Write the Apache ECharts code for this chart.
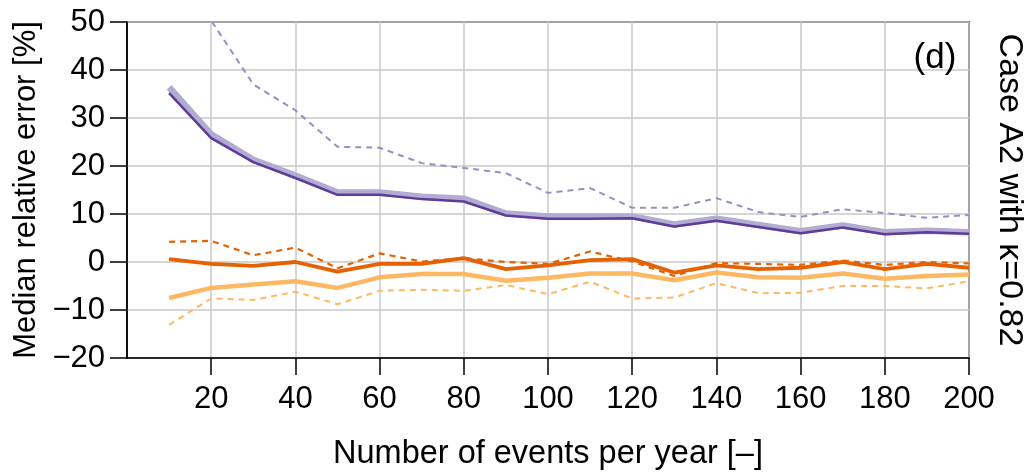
<!DOCTYPE html>
<html>
<head>
<meta charset="utf-8">
<script src="https://cdn.jsdelivr.net/npm/echarts@6/dist/echarts.min.js"></script>
<style>
html,body{margin:0;padding:0;background:#fff;}
#chart{width:1026px;height:472px;}
</style>
</head>
<body>
<div id="chart"></div>
<script>
const eventsPerYear = [10,20,30,40,50,60,70,80,90,100,110,120,130,140,150,160,170,180,190,200];
const purpleThick = [36.4,26.6,21.3,18.0,14.5,14.5,13.6,13.2,10.1,9.5,9.5,9.5,7.8,9.0,7.7,6.4,7.6,6.2,6.5,6.2];
const purpleSolid = [35.2,25.8,20.8,17.5,14.0,14.0,13.1,12.6,9.7,9.0,9.0,9.1,7.4,8.6,7.3,6.0,7.2,5.8,6.2,5.9];
const purpleDashed = [95,50.3,37.0,31.6,24.0,23.8,20.6,19.6,18.5,14.4,15.4,11.3,11.3,13.3,10.4,9.4,11.0,10.2,9.2,9.8];
const orangeSolid = [0.6,-0.4,-0.8,0.0,-2.0,-0.4,-0.4,0.8,-1.5,-0.7,0.4,0.6,-2.2,-0.7,-1.5,-1.2,0.0,-1.5,-0.4,-1.2];
const orangeDashed = [4.2,4.4,1.4,3.0,-1.3,1.8,0.1,0.8,0.0,-0.4,2.2,0.1,-2.9,-0.2,-0.4,-0.6,0.3,-0.6,0.0,-0.3];
const lightOrangeSolid = [-7.5,-5.4,-4.7,-4.0,-5.4,-3.2,-2.5,-2.5,-3.9,-3.3,-2.4,-2.4,-3.8,-2.2,-3.2,-3.3,-2.4,-3.5,-2.9,-2.6];
const lightOrangeDashed = [-13.1,-7.6,-7.9,-6.2,-8.8,-6.0,-5.8,-6.0,-4.8,-6.7,-4.1,-7.6,-7.4,-4.4,-6.5,-6.4,-5.0,-5.0,-5.5,-4.0];
const xTicks = [20,40,60,80,100,120,140,160,180,200];
const yTicks = [-20,-10,0,10,20,30,40,50];

const FONT = 'Liberation Sans, Arial, Helvetica, sans-serif';
function pairs(ys){ return eventsPerYear.map((x,i)=>[x,ys[i]]); }
function line(ys,color,width,type,z){
  return {type:'line',data:pairs(ys),symbol:'none',clip:true,z:z,
    lineStyle:{color:color,width:width,type:type,join:'round',cap:'butt'},
    emphasis:{disabled:true}};
}

const chart = echarts.init(document.getElementById('chart'),null,{renderer:'canvas'});
chart.setOption({
  animation:false,
  backgroundColor:'#fff',
  grid:{left:127,right:57,top:22,bottom:114,show:true,borderColor:'#000',borderWidth:1.5,
    backgroundColor:'transparent',containLabel:false,outerBoundsMode:'none'},
  xAxis:{type:'value',min:0,max:200,interval:20,
    name:'Number of events per year [–]',nameLocation:'middle',nameGap:80,
    nameTextStyle:{fontFamily:FONT,fontSize:32.5,color:'#000'},
    axisLine:{onZero:false,lineStyle:{color:'#000',width:1.5}},
    axisTick:{show:true,length:17,customValues:xTicks,lineStyle:{color:'#000',width:1.5}},
    axisLabel:{customValues:xTicks,fontFamily:FONT,fontSize:31,color:'#000',margin:26},
    splitLine:{show:true,lineStyle:{color:'#c8c8c8',width:1.5}}},
  yAxis:{type:'value',min:-20,max:50,interval:5,
    name:'Median relative error [%]',nameLocation:'middle',nameGap:80,nameRotate:90,
    nameTextStyle:{fontFamily:FONT,fontSize:31,color:'#000'},
    axisLine:{onZero:false,lineStyle:{color:'#000',width:1.5}},
    axisTick:{show:true,length:17,customValues:yTicks,lineStyle:{color:'#000',width:1.5}},
    axisLabel:{customValues:yTicks,fontFamily:FONT,fontSize:31,color:'#000',margin:22,
      formatter:v=>v<0?'\u2212'+Math.abs(v):String(v)},
    splitLine:{show:true,lineStyle:{color:'#c8c8c8',width:1.5}}},
  graphic:[
    {type:'text',x:935,y:58,z:10,style:{text:'(d)',font:'35px '+FONT,fill:'#000',align:'center',verticalAlign:'middle'}},
    {type:'text',x:1009,y:190,rotation:-Math.PI/2,
      style:{text:'Case A2 with \u03BA=0.82',font:'34px '+FONT,fill:'#000',align:'center',verticalAlign:'middle'}}
  ],
  series:[
    line(purpleThick,'#b2abd2',6.5,'solid',2),
    line(purpleSolid,'#5e3c99',2.5,'solid',3),
    line(purpleDashed,'#998ec3',2,[6,5],3),
    line(lightOrangeSolid,'#fdb863',4.5,'solid',2),
    line(lightOrangeDashed,'#fdb863',2,[6,5],2),
    line(orangeSolid,'#e66101',3.8,'solid',3),
    line(orangeDashed,'#e66101',2.2,[6,5],3)
  ]
});
</script>
</body>
</html>
